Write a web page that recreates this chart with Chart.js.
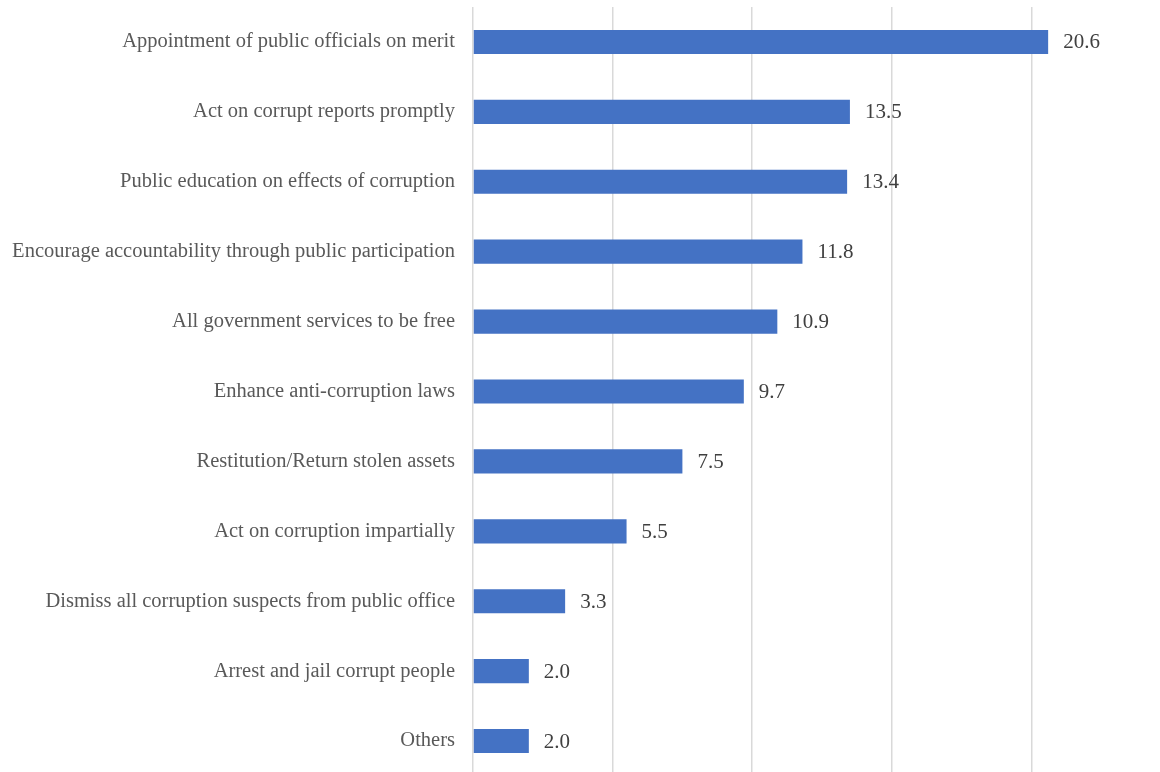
<!DOCTYPE html>
<html>
<head>
<meta charset="utf-8">
<script src="https://cdn.jsdelivr.net/npm/chart.js@4.4.1/dist/chart.umd.min.js"></script>
<style>
  html, body { margin: 0; padding: 0; background: #ffffff; overflow: hidden; }
  #chart { position: absolute; left: 0; top: 0; }
</style>
</head>
<body>
<canvas id="chart" width="1172" height="780" style="width:1172px;height:780px"></canvas>
<script>
// Suggested measures against corruption (% of responses)
const categories = [
  "Appointment of public officials on merit",
  "Act on corrupt reports promptly",
  "Public education on effects of corruption",
  "Encourage accountability through public participation",
  "All government services to be free",
  "Enhance anti-corruption laws",
  "Restitution/Return stolen assets",
  "Act on corruption impartially",
  "Dismiss all corruption suspects from public office",
  "Arrest and jail corrupt people",
  "Others"
];
const shares = [20.6, 13.5, 13.4, 11.8, 10.9, 9.7, 7.5, 5.5, 3.3, 2.0, 2.0];
const axisMin = 0;
const axisMax = 25;
const axisStep = 5;

const serif = "'Liberation Serif', 'DejaVu Serif', serif";

// Writes each bar's value just past its end
const valueLabels = {
  id: 'valueLabels',
  afterDatasetsDraw(chart) {
    const ctx = chart.ctx;
    const meta = chart.getDatasetMeta(0);
    ctx.save();
    ctx.font = "21px " + serif;
    ctx.fillStyle = "#404040";
    ctx.textAlign = "left";
    ctx.textBaseline = "middle";
    meta.data.forEach((bar, i) => {
      ctx.fillText(shares[i].toFixed(1), bar.x + 15, bar.y + 1);
    });
    ctx.restore();
  }
};

new Chart(document.getElementById('chart'), {
  type: 'bar',
  data: {
    labels: categories,
    datasets: [{
      data: shares,
      backgroundColor: '#4472c4',
      borderWidth: 0,
      barPercentage: 0.345,
      categoryPercentage: 1.0
    }]
  },
  options: {
    indexAxis: 'y',
    responsive: false,
    animation: false,
    layout: { padding: { top: 7, right: 1, bottom: 4, left: 0 } },
    plugins: {
      legend: { display: false },
      tooltip: { enabled: false }
    },
    scales: {
      x: {
        min: axisMin,
        max: axisMax,
        afterFit(scale) { scale.height = 0; scale.paddingLeft = 0; scale.paddingRight = 0; },
        ticks: { display: false, stepSize: axisStep },
        grid: { color: '#d9d9d9', lineWidth: 1.5, drawTicks: false },
        border: { display: false }
      },
      y: {
        afterFit(scale) {
          scale.width = 473;
          scale.paddingTop = 0;
          scale.paddingBottom = 0;
        },
        grid: { display: false, drawTicks: false },
        border: { display: false },
        ticks: {
          padding: 18,
          color: '#595959',
          font: { family: serif, size: 20.5 }
        }
      }
    }
  },
  plugins: [valueLabels]
});
</script>
</body>
</html>
